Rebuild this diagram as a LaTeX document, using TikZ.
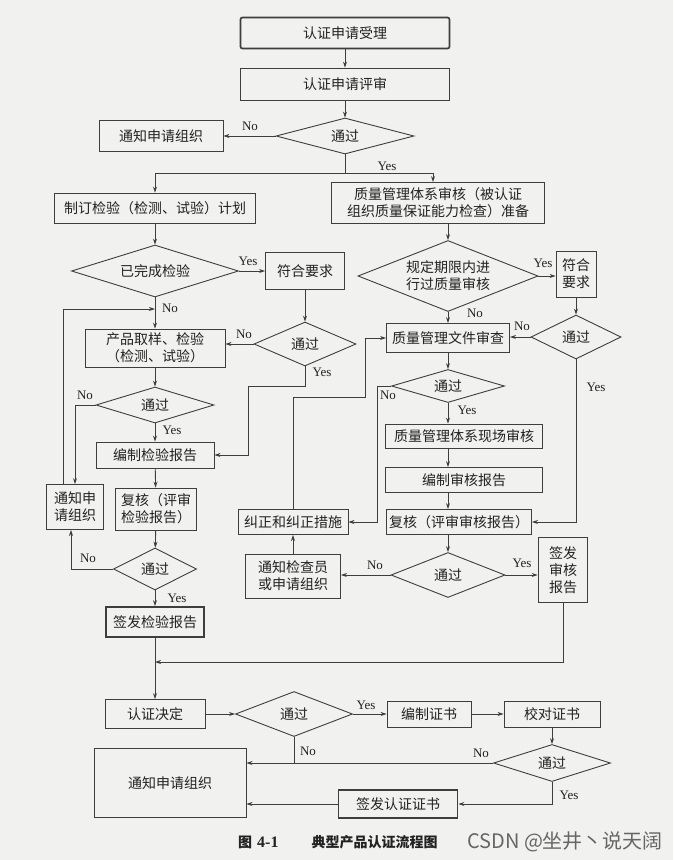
\documentclass[tikz,border=0pt]{standalone}
\usepackage{fontspec}
\setmainfont{Liberation Serif}
\newfontfamily\cjk{Noto Sans CJK SC}
\usepackage{tikz}
\usetikzlibrary{shapes.geometric,arrows.meta}
\definecolor{paper}{RGB}{241,241,239}
\definecolor{ink}{RGB}{62,62,62}
\tikzset{
  box/.style={rectangle, draw=ink, line width=0.9pt, align=center, inner sep=0pt,
              text=ink!55!black, font=\cjk\fontsize{14}{17}\selectfont},
  tbox/.style={box, line width=1.7pt},
  dec/.style={diamond, draw=ink, line width=0.9pt, aspect=3, inner sep=0pt, align=center,
              text=ink!55!black, font=\cjk\fontsize{14}{17}\selectfont},
  lbl/.style={inner sep=0pt, text=ink!55!black, font=\fontsize{13}{15}\selectfont},
  arr/.style={draw=ink, line width=0.9pt, -{Stealth[length=6pt,width=4pt]}},
  ln/.style={draw=ink, line width=0.9pt}
}

\begin{document}
\begin{tikzpicture}[x=1pt,y=-1pt]
  \fill[paper] (0,0) rectangle (673,860);
  \useasboundingbox (0,0) rectangle (673,860);
  % top
  \node[tbox, rounded corners=2pt, minimum width=209pt, minimum height=31pt] (accept) at (345,33) {认证申请受理};
  \node[box, minimum width=209pt, minimum height=32pt] (review) at (345,84) {认证申请评审};
  \node[dec, minimum width=138pt, minimum height=36pt] (pass1) at (345,136) {通过};
  \node[box, minimum width=124pt, minimum height=31pt] (notify1) at (161,136) {通知申请组织};
  \coordinate (split) at (345,173);
  \node[box, minimum width=201pt, minimum height=30pt] (plan) at (155,208) {制订检验（检测、试验）计划};
  \node[box, minimum width=213pt, minimum height=41pt] (qms) at (438,203) {质量管理体系审核（被认证\\组织质量保证能力检查）准备};
  % left column
  \node[dec, minimum width=167pt, minimum height=52pt] (done) at (155,271) {已完成检验};
  \node[box, minimum width=79pt, minimum height=37pt] (meetA) at (305,271) {符合要求};
  \node[dec, minimum width=102pt, minimum height=44pt] (passA) at (305,344) {通过};
  \node[box, minimum width=140pt, minimum height=38pt] (sample) at (155,348) {产品取样、检验\\（检测、试验）};
  \coordinate (loopA) at (155,309);
  \node[dec, minimum width=118pt, minimum height=36pt] (passT) at (155,405) {通过};
  \node[box, minimum width=118pt, minimum height=26pt] (report) at (155,455) {编制检验报告};
  \node[box, minimum width=57pt, minimum height=45pt] (notify2) at (75,507) {通知申\\请组织};
  \node[box, minimum width=81pt, minimum height=42pt] (recheck) at (156,509) {复核（评审\\检验报告）};
  \node[dec, minimum width=83pt, minimum height=42pt] (passR) at (155,569) {通过};
  \node[tbox, minimum width=98pt, minimum height=30pt] (issueRep) at (155,622) {签发检验报告};
  % right column
  \node[dec, aspect=2.5, minimum width=180pt, minimum height=71pt] (period) at (448,276) {规定期限内进\\行过质量审核};
  \node[box, minimum width=40pt, minimum height=46pt] (meetB) at (576,274) {符合\\要求};
  \node[dec, minimum width=90pt, minimum height=44pt] (passB) at (576,337) {通过};
  \node[box, minimum width=123pt, minimum height=29pt] (docrev) at (448,338) {质量管理文件审查};
  \node[dec, minimum width=113pt, minimum height=33pt] (passD) at (448,386) {通过};
  \node[box, minimum width=157pt, minimum height=24pt] (onsite) at (464,436) {质量管理体系现场审核};
  \node[box, minimum width=157pt, minimum height=25pt] (audrep) at (464,480) {编制审核报告};
  \node[box, minimum width=145pt, minimum height=25pt] (recheckB) at (459,522) {复核（评审审核报告）};
  \node[dec, minimum width=114pt, minimum height=45pt] (passAu) at (448,575) {通过};
  \node[box, minimum width=110pt, minimum height=25pt] (correct) at (293,522) {纠正和纠正措施};
  \node[box, minimum width=95pt, minimum height=44pt] (inform) at (293,576) {通知检查员\\或申请组织};
  \node[tbox, minimum width=49pt, minimum height=65pt] (issueAud) at (563,570) {签发\\审核\\报告};
  % bottom
  \coordinate (merge) at (155,662);
  \node[box, minimum width=100pt, minimum height=29pt] (decide) at (155,714) {认证决定};
  \node[dec, minimum width=117pt, minimum height=45pt] (passC) at (294,714) {通过};
  \node[box, minimum width=84pt, minimum height=26pt] (writeCert) at (429,714) {编制证书};
  \node[box, minimum width=96pt, minimum height=26pt] (checkCert) at (552,714) {校对证书};
  \node[dec, minimum width=117pt, minimum height=37pt] (passF) at (552,763) {通过};
  \node[box, minimum width=152pt, minimum height=69pt] (notify3) at (170,783) {通知申请组织};
  \node[tbox, minimum width=119pt, minimum height=28pt] (issueCert) at (398,804) {签发认证证书};

  % connectors, top
  \draw[arr] (accept) -- (review);
  \draw[arr] (review) -- (pass1);
  \draw[arr] (pass1.west) -- (pass1.west -| notify1.east);
  \draw[ln] (pass1) -- (split);
  \draw[arr] (split) -| (plan);
  \draw[arr] (split) -| ([xshift=-5pt]qms.north);
  % left column
  \draw[arr] (plan) -- (done);
  \draw[arr] (done) -- (meetA);
  \draw[arr] (meetA) -- (passA);
  \draw[arr] (passA.west) -- (passA.west -| sample.east);
  \draw[arr] (done) -- (sample);
  \draw[arr] ([xshift=-12pt]notify2.north) |- (loopA);
  \draw[arr] (sample) -- (passT);
  \draw[arr] (passT.west) -| (notify2.north);
  \draw[arr] (passT) -- (report);
  \draw[arr] (passA.south) |- (248,386) |- (report.east);
  \draw[arr] (report) -- (recheck);
  \draw[arr] (recheck) -- (passR);
  \draw[arr] (passR.west) -| ([xshift=-4pt]notify2.south);
  \draw[arr] (passR) -- (issueRep);
  \draw[arr] (issueRep) -- (decide);
  \draw[arr] (issueAud.south) |- (merge);
  % right column
  \draw[arr] (qms.south -| period.north) -- (period.north);
  \draw[arr] (period.east) -- (period.east -| meetB.west);
  \draw[arr] (meetB) -- (passB);
  \draw[arr] (passB.west) -- (passB.west -| docrev.east);
  \draw[arr] (period) -- (docrev);
  \draw[arr] (docrev) -- (passD);
  \draw[arr] (passD.south) -- (passD.south |- onsite.north);
  \draw[arr] (onsite.south -| passD.south) -- (audrep.north -| passD.south);
  \draw[arr] (audrep.south -| passD.south) -- (recheckB.north -| passD.south);
  \draw[arr] (recheckB.south -| passD.south) -- (passAu.north);
  \draw[arr] (passB.south) |- (recheckB.east);
  \draw[arr] (passD.west) -- ++(-14,0) |- (correct.east);
  \draw[arr] (correct.north) |- (365,397) |- (docrev.west);
  \draw[arr] (passAu.west) -- (passAu.west -| inform.east);
  \draw[arr] (passAu.east) -- (passAu.east -| issueAud.west);
  \draw[arr] (inform) -- (correct);
  % bottom
  \draw[arr] (decide) -- (passC);
  \draw[arr] (passC) -- (writeCert);
  \draw[arr] (writeCert) -- (checkCert);
  \draw[arr] (checkCert) -- (passF);
  \draw[arr] (passF.west) -- (passF.west -| notify3.east);
  \draw[ln] (passC.south) -- (passC.south |- passF.west);
  \draw[arr] (passF.south) |- (issueCert.east);
  \draw[arr] (issueCert.west) -- (issueCert.west -| notify3.east);

  % Yes / No
  \node[lbl] (n1) at (250,126) {No};
  \node[lbl] (y1) at (387,166) {Yes};
  \node[lbl] (y2) at (248,261) {Yes};
  \node[lbl] (n2) at (170,308) {No};
  \node[lbl] (n3) at (244,334) {No};
  \node[lbl] (y3) at (322,372) {Yes};
  \node[lbl] (n4) at (85,395) {No};
  \node[lbl] (y4) at (172,430) {Yes};
  \node[lbl] (n5) at (88,558) {No};
  \node[lbl] (y5) at (177,598) {Yes};
  \node[lbl] (y6) at (543,263) {Yes};
  \node[lbl] (n6) at (475,313) {No};
  \node[lbl] (n7) at (522,326) {No};
  \node[lbl] (y7) at (596,387) {Yes};
  \node[lbl] (n8) at (388,395) {No};
  \node[lbl] (y8) at (467,410) {Yes};
  \node[lbl] (n9) at (375,565) {No};
  \node[lbl] (y9) at (522,563) {Yes};
  \node[lbl] (y10) at (366,705) {Yes};
  \node[lbl] (n10) at (308,751) {No};
  \node[lbl] (n11) at (481,753) {No};
  \node[lbl] (y11) at (569,795) {Yes};

  % caption
  \node[anchor=west, inner sep=0pt, text=ink!55!black] (caption) at (238,842)
    {{\cjk\bfseries\fontsize{14}{16}\selectfont 图}\hspace{5pt}\textbf{\fontsize{16}{18}\selectfont 4-1}\hspace{33pt}{\cjk\bfseries\fontsize{14}{16}\selectfont 典型产品认证流程图}};
  \node[anchor=west, inner sep=0pt, text=gray!80!black, font=\cjk\fontsize{20}{22}\selectfont] (mark) at (467,842) {CSDN @坐井丶说天阔};
\end{tikzpicture}
\end{document}
